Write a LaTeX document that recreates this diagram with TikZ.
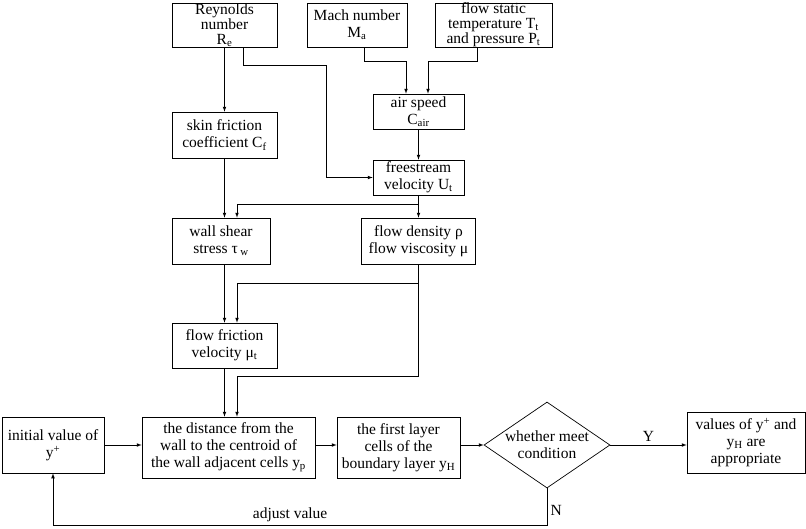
\documentclass[tikz,border=0pt]{standalone}
\usepackage{fontspec}
\setmainfont{Liberation Serif}
\usetikzlibrary{shapes.geometric}
\tikzset{
  box/.style={draw, align=center, inner sep=1pt},
  tallbox/.style={box, inner ysep=0pt, font=\fontsize{15.5}{15}\selectfont},
  cond/.style={draw, diamond, minimum width=126pt, minimum height=86pt, inner sep=0pt},
}
\begin{document}
\begin{tikzpicture}[>=latex, x=1pt, y=-1pt, line width=0.7pt, font=\fontsize{15.5}{17}\selectfont]
\useasboundingbox (0,0) rectangle (806,528);
\node[tallbox, minimum width=105pt, minimum height=44pt] (re) at (224.5,25) {Reynolds\\number\\R\textsubscript{e}};
\node[box, minimum width=100pt, minimum height=44pt] (ma) at (357,25) {Mach number\\M\textsubscript{a}};
\node[tallbox, minimum width=117pt, minimum height=44pt] (fs) at (493.5,25) {flow static\\temperature T\textsubscript{t}\\and pressure P\textsubscript{t}};
\node[box, minimum width=91pt, minimum height=35pt] (air) at (418.5,111.5) {air speed\\C\textsubscript{air}};
\node[box, minimum width=105pt, minimum height=46pt] (cf) at (224.5,135) {skin friction\\coefficient C\textsubscript{f}};
\node[box, minimum width=91pt, minimum height=35pt] (ut) at (418.5,177.5) {freestream\\velocity U\textsubscript{t}};
\node[box, minimum width=98pt, minimum height=46pt] (tw) at (221,241) {wall shear\\stress τ\,\textsubscript{w}};
\node[box, minimum width=114pt, minimum height=46pt] (rho) at (418.5,241) {flow density ρ\\flow viscosity μ};
\node[box, minimum width=105pt, minimum height=45pt] (fv) at (224.5,345.5) {flow friction\\velocity μ\textsubscript{t}};
\node[box, minimum width=102pt, minimum height=56pt] (init) at (53,445) {initial value of\\y\textsuperscript{+}};
\node[box, minimum width=173pt, minimum height=61pt] (yp) at (228.5,447.5) {the distance from the\\wall to the centroid of\\the wall adjacent cells y\textsubscript{p}};
\node[box, minimum width=123pt, minimum height=61pt] (yh) at (398.5,447.5) {the first layer\\cells of the\\boundary layer y\textsubscript{H}};
\node[cond] (cond) at (547,445) {};
\node[align=center] (condtext) at (cond) {whether meet\\condition};
\node[box, minimum width=118pt, minimum height=61pt] (vals) at (746,442.5) {values of y\textsuperscript{+} and\\y\textsubscript{H} are\\appropriate};
\coordinate (r1) at (326,65);
\coordinate (m1) at (406,61);
\coordinate (t1) at (428,61);
\coordinate (u1) at (237,204);
\coordinate (d1) at (237,283);
\coordinate (d2) at (237,376);
\coordinate (n1) at (53,525);
\draw[->] (re) -- (cf);
\draw[->] ([xshift=18.5pt]re.south) |- (r1) |- (ut.west);
\draw[->] ([xshift=7pt]ma.south) |- (m1) -- (m1 |- air.north);
\draw[->] ([xshift=-16.5pt]fs.south) |- (t1) -- (t1 |- air.north);
\draw[->] (air) -- (ut);
\draw[->] (ut) -- (rho);
\draw[->] (ut.south) |- (u1) -- (u1 |- tw.north);
\draw[->] (cf) -- (cf |- tw.north);
\draw[->] (fv |- tw.south) -- (fv);
\draw[->] (rho.south) |- (d1) -- (d1 |- fv.north);
\draw[->] (rho.south) |- (d2) -- (d2 |- yp.north);
\draw[->] (fv) -- (fv |- yp.north);
\draw[->] (init.east) -- (init.east -| yp.west);
\draw[->] (yp.east |- cond) -- (yh.west |- cond);
\draw[->] (yh.east |- cond) -- (cond.west);
\draw[->] (cond.east) -- (cond.east -| vals.west) node[midway, above] {Y};
\draw[->] (cond.south) |- node[pos=0.3, right] {N} node[pos=0.76, above] {adjust value} (n1) -- (init.south);
\end{tikzpicture}
\end{document}
